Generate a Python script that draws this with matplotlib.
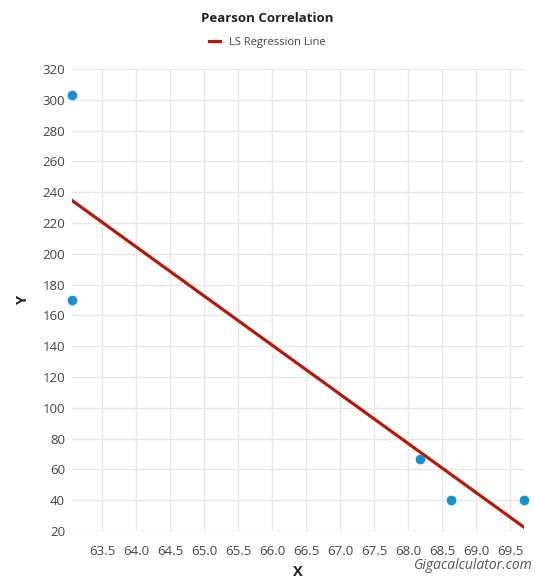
import matplotlib
matplotlib.use('Agg')
import matplotlib.pyplot as plt
import numpy as np

# sample points
x_vals = [63.06, 63.06, 68.17, 68.63, 69.70]
y_vals = [303, 170, 67, 40, 40]
x_ticks = [63.5, 64.0, 64.5, 65.0, 65.5, 66.0, 66.5, 67.0, 67.5, 68.0, 68.5, 69.0, 69.5]
y_ticks = [20, 40, 60, 80, 100, 120, 140, 160, 180, 200, 220, 240, 260, 280, 300, 320]

plt.rcParams['font.family'] = ['Open Sans', 'DejaVu Sans']

def main():
    fig = plt.figure(figsize=(5.35, 5.8), dpi=100)
    ax = fig.add_axes([0.1346, 0.0845, 0.979 - 0.1346, 0.881 - 0.0845])

    # least squares fit
    slope, intercept = np.polyfit(x_vals, y_vals, 1)
    xs = np.array([min(x_vals), max(x_vals)])
    line, = ax.plot(xs, slope * xs + intercept, color='#b01c0c', lw=2.3, zorder=3)
    ax.scatter(x_vals, y_vals, s=36, color='#1a8fcf', zorder=4, clip_on=False)

    ax.set_xlim(min(x_vals), max(x_vals))
    ax.set_ylim(20, 320)
    ax.set_xticks(x_ticks)
    ax.set_xticklabels([f'{t:.1f}' for t in x_ticks])
    ax.set_yticks(y_ticks)
    ax.grid(True, color='#e6e6e6', lw=1)
    ax.set_axisbelow(True)
    for s in ax.spines.values():
        s.set_visible(False)
    ax.tick_params(length=0, labelsize=9.5, colors='#444444', pad=5)
    ax.tick_params(axis='x', pad=10)

    fig.text(0.557, 0.013, 'X', ha='center', va='center', fontsize=10.5,
             fontweight='bold', color='#222222')
    fig.text(0.042, 0.483, 'Y', ha='center', va='center', rotation=90, fontsize=10.5,
             fontweight='bold', color='#222222')

    fig.text(0.5, 0.968, 'Pearson Correlation', ha='center', va='center',
             fontsize=9.5, fontweight='bold', color='#222222')
    fig.legend([line], ['LS Regression Line'], loc='center', bbox_to_anchor=(0.5, 0.927),
               frameon=False, fontsize=8, handlelength=1.0, labelcolor='#444444')
    fig.text(0.995, 0.012, 'Gigacalculator.com', ha='right', va='bottom',
             fontsize=10, style='italic', color='#555555')

    fig.savefig('out.png', dpi=100)


if __name__ == '__main__':
    main()
